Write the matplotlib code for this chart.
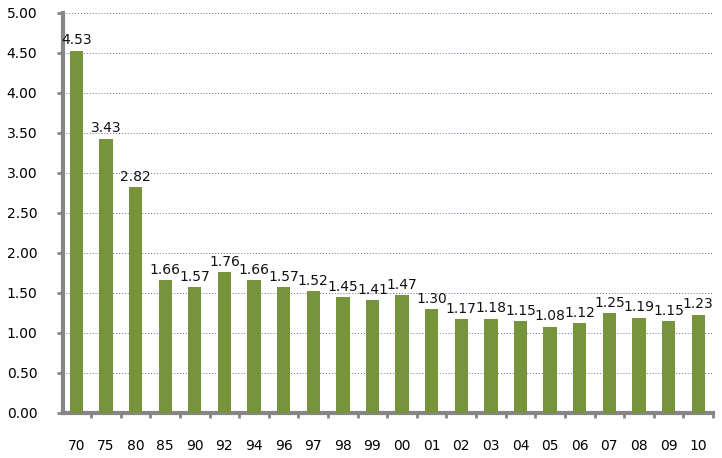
import matplotlib.pyplot as plt
import numpy as np
from matplotlib.ticker import FixedLocator, FormatStrFormatter

years = ['70', '75', '80', '85', '90', '92', '94', '96', '97', '98', '99',
         '00', '01', '02', '03', '04', '05', '06', '07', '08', '09', '10']
values = [4.53, 3.43, 2.82, 1.66, 1.57, 1.76, 1.66, 1.57, 1.52, 1.45, 1.41,
          1.47, 1.30, 1.17, 1.18, 1.15, 1.08, 1.12, 1.25, 1.19, 1.15, 1.23]

plt.rcParams['font.family'] = 'DejaVu Sans'

fig = plt.figure(figsize=(7.22, 4.58), dpi=100)
ax = fig.add_axes([63 / 722, 45 / 458, 650 / 722, 400 / 458])

x = np.arange(len(years))
bars = ax.bar(x, values, width=0.45, color='#77933C', zorder=3)

# labels above bars
for rect, v in zip(bars, values):
    ax.annotate('%.2f' % v, (rect.get_x() + rect.get_width() / 2, rect.get_height()),
                xytext=(0, 2.5), textcoords='offset points',
                ha='center', va='bottom', fontsize=10, color='#111111')

ax.set_xlim(-0.45, len(years) - 0.5)
ax.set_ylim(0, 5)
ax.set_yticks(np.arange(0, 5.01, 0.5))
ax.yaxis.set_major_formatter(FormatStrFormatter('%.2f'))

# dotted grid
for yv in np.arange(0.5, 5.01, 0.5):
    ax.axhline(yv, color='#5a75a0', linestyle=(0, (1, 2)), linewidth=0.7, zorder=1)

ax.set_xticks(x)
ax.set_xticklabels(years)
ax.xaxis.set_minor_locator(FixedLocator(np.arange(0.5, len(years), 1.0)))

ax.tick_params(axis='x', which='major', length=0, pad=19, labelsize=10, colors='#000000')
ax.tick_params(axis='x', which='minor', length=3.6, width=2, color='#868686', direction='out')
ax.tick_params(axis='y', which='major', length=4.5, width=2, color='#868686',
               direction='out', pad=14, labelsize=10)

for side in ['top', 'right']:
    ax.spines[side].set_visible(False)
for side in ['left', 'bottom']:
    ax.spines[side].set_color('#868686')
    ax.spines[side].set_linewidth(3)

fig.savefig('out.png', dpi=100)
